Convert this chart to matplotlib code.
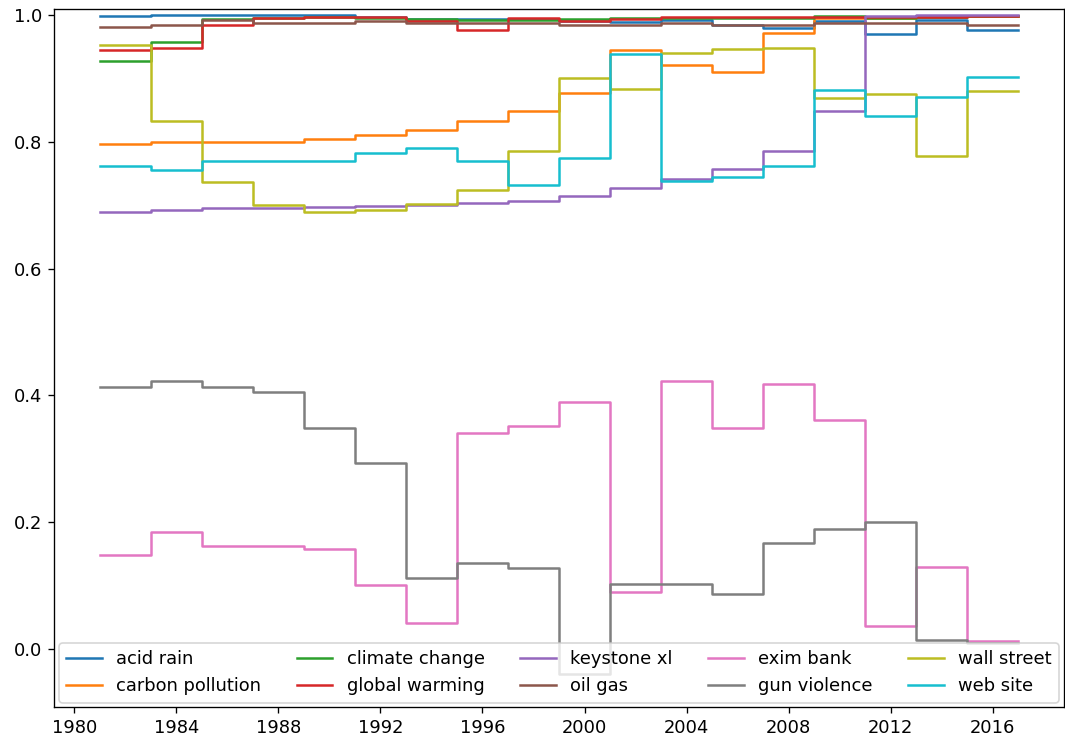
import matplotlib
matplotlib.use("Agg")
import matplotlib.pyplot as plt
import numpy as np
from matplotlib.ticker import MultipleLocator

# two-year bins, 1981 .. 2017
years = np.arange(1981, 2018, 2)

acid_rain = [0.998, 1.0, 1.0, 1.0, 1.0, 0.997, 0.994, 0.994, 0.994, 0.990,
             0.989, 0.992, 0.985, 0.980, 0.990, 0.970, 0.992, 0.976]
carbon_pollution = [0.797, 0.799, 0.799, 0.799, 0.805, 0.811, 0.819, 0.833, 0.849, 0.877,
                    0.945, 0.921, 0.910, 0.972, 0.995, 0.996, 0.997, 0.998]
climate_change = [0.928, 0.957, 0.994, 0.995, 0.997, 0.995, 0.993, 0.992, 0.992, 0.993,
                  0.996, 0.995, 0.996, 0.996, 0.998, 0.996, 0.997, 0.998]
global_warming = [0.945, 0.948, 0.984, 0.995, 0.997, 0.997, 0.990, 0.976, 0.995, 0.990,
                  0.993, 0.997, 0.997, 0.997, 0.997, 0.997, 0.997, 0.998]
keystone_xl = [0.689, 0.693, 0.695, 0.695, 0.697, 0.698, 0.701, 0.703, 0.707, 0.715,
               0.727, 0.742, 0.757, 0.785, 0.849, 0.998, 1.0, 1.0]
oil_gas = [0.981, 0.984, 0.992, 0.987, 0.987, 0.990, 0.987, 0.988, 0.988, 0.985,
           0.985, 0.988, 0.985, 0.985, 0.988, 0.988, 0.988, 0.984]
exim_bank = [0.148, 0.185, 0.162, 0.162, 0.157, 0.101, 0.041, 0.341, 0.351, 0.390,
             0.090, 0.423, 0.349, 0.418, 0.361, 0.036, 0.129, 0.012]
gun_violence = [0.413, 0.422, 0.413, 0.405, 0.349, 0.293, 0.112, 0.135, 0.128, -0.040,
                0.102, 0.102, 0.087, 0.167, 0.189, 0.201, 0.014, 0.010]
wall_street = [0.952, 0.833, 0.737, 0.700, 0.689, 0.692, 0.702, 0.724, 0.786, 0.901,
               0.883, 0.940, 0.946, 0.948, 0.869, 0.875, 0.778, 0.880]
web_site = [0.762, 0.755, 0.770, 0.770, 0.770, 0.782, 0.791, 0.770, 0.732, 0.774,
            0.938, 0.738, 0.744, 0.762, 0.881, 0.841, 0.870, 0.903]

names = ["acid rain", "carbon pollution", "climate change", "global warming", "keystone xl",
         "oil gas", "exim bank", "gun violence", "wall street", "web site"]
series = [acid_rain, carbon_pollution, climate_change, global_warming, keystone_xl,
          oil_gas, exim_bank, gun_violence, wall_street, web_site]

plt.rcParams["font.size"] = 10.7

fig = plt.figure(figsize=(1065 / 120, 742 / 120), dpi=120)
ax = fig.add_axes([54 / 1065, 35 / 742, 1010 / 1065, 698 / 742])

for name, vals in zip(names, series):
    # repeat the last bin so the final step runs out to 2017
    ax.step(years, list(vals) + [vals[-1]], where="post", label=name, linewidth=1.5)

ax.set_ylim(-0.0915, 1.0095)
ax.set_xlim(1979.2, 2018.8)
ax.xaxis.set_major_locator(MultipleLocator(4))
ax.yaxis.set_major_locator(MultipleLocator(0.2))

ax.legend(loc="lower center", ncol=5, borderaxespad=0.25)

fig.savefig("out.png", dpi=120)
